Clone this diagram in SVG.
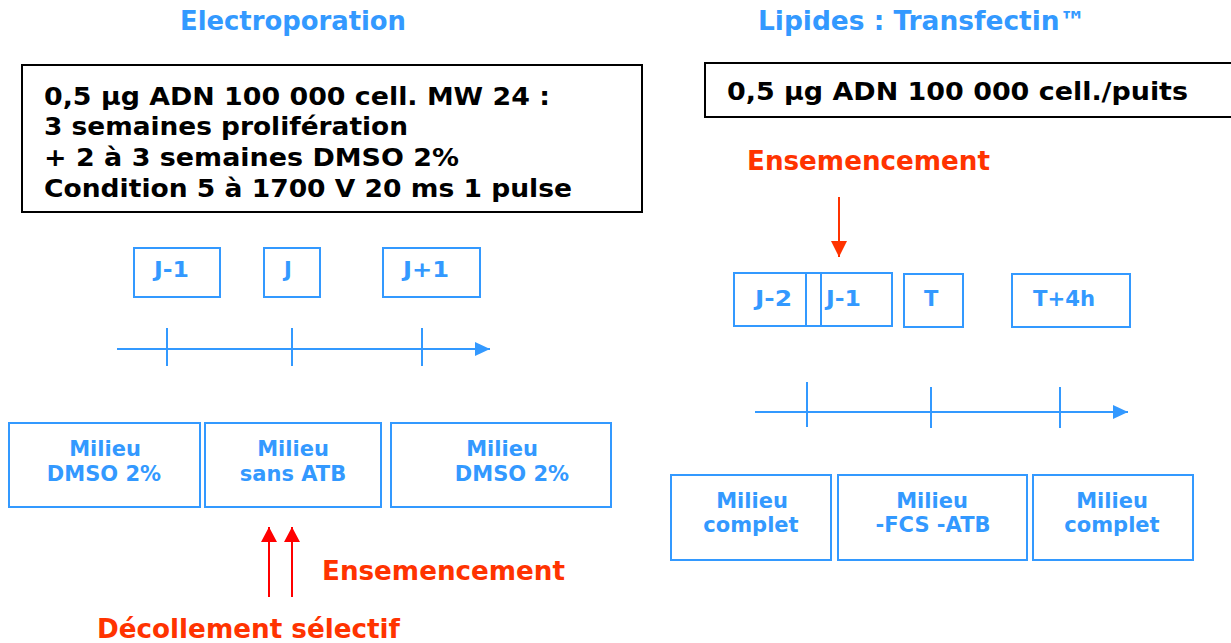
<svg xmlns="http://www.w3.org/2000/svg" width="1231" height="643" viewBox="0 0 1231 643">
<style>
text{font-family:"DejaVu Sans","Liberation Sans",sans-serif;font-weight:bold}
.title{fill:#3399ff;font-size:26px}
.blk{fill:#000;font-size:25px}
.red{fill:#ff3300;font-size:26px}
.lbl{fill:#3399ff;font-size:21px}
.med{fill:#3399ff;font-size:21px;text-anchor:middle}
.bbox{fill:#fff;stroke:#000;stroke-width:2}
.box{fill:#fff;stroke:#3399ff;stroke-width:2}
.axis{stroke:#3399ff;stroke-width:2;fill:none}
.rarrow{stroke:#ff0000;stroke-width:2;fill:none}
.oarrow{stroke:#ff3300;stroke-width:2;fill:none}
</style>
<defs>
<marker id="ab" markerWidth="16" markerHeight="14" refX="15" refY="7" orient="auto" markerUnits="userSpaceOnUse"><path d="M0,0 L15,7 L0,14 z" fill="#3399ff"/></marker>
<marker id="ar" markerWidth="16" markerHeight="16" refX="15" refY="8" orient="auto" markerUnits="userSpaceOnUse"><path d="M0,0 L15,8 L0,16 z" fill="#ff0000"/></marker>
<marker id="ao" markerWidth="17" markerHeight="16" refX="16" refY="8" orient="auto" markerUnits="userSpaceOnUse"><path d="M0,0 L16,8 L0,16 z" fill="#ff3300"/></marker>
</defs>
<rect width="1231" height="643" fill="#fff"/>

<g id="title-electroporation"><text class="title" x="180" y="30" textLength="226" lengthAdjust="spacingAndGlyphs">Electroporation</text></g>
<g id="title-lipides"><text class="title" x="758" y="30" textLength="328" lengthAdjust="spacingAndGlyphs">Lipides : Transfectin™</text></g>

<g id="info-electro">
<rect class="bbox" x="22" y="65" width="620" height="147"/>
<text class="blk" x="44" y="105" textLength="506" lengthAdjust="spacingAndGlyphs">0,5 µg ADN 100 000 cell. MW 24 :</text>
<text class="blk" x="44" y="135" textLength="364" lengthAdjust="spacingAndGlyphs">3 semaines prolifération</text>
<text class="blk" x="44" y="166" textLength="415" lengthAdjust="spacingAndGlyphs">+ 2 à 3 semaines DMSO 2%</text>
<text class="blk" x="44" y="197" textLength="528" lengthAdjust="spacingAndGlyphs">Condition 5 à 1700 V 20 ms 1 pulse</text>
</g>
<g id="info-lipides">
<rect class="bbox" x="705" y="63" width="530" height="54"/>
<text class="blk" x="727" y="100" textLength="461" lengthAdjust="spacingAndGlyphs">0,5 µg ADN 100 000 cell./puits</text>
</g>

<g id="e-j-1"><rect class="box" x="134" y="248" width="86" height="49"/><text class="lbl" x="154" y="277" textLength="35" lengthAdjust="spacingAndGlyphs">J-1</text></g>
<g id="e-j"><rect class="box" x="264" y="248" width="56" height="49"/><text class="lbl" x="284" y="277">J</text></g>
<g id="e-j+1"><rect class="box" x="383" y="248" width="97" height="49"/><text class="lbl" x="403" y="277" textLength="46" lengthAdjust="spacingAndGlyphs">J+1</text></g>

<g id="e-m1"><rect class="box" x="9" y="423" width="191" height="84"/><text class="med" x="105" y="456">Milieu</text><text class="med" x="104" y="481">DMSO 2%</text></g>
<g id="e-m2"><rect class="box" x="205" y="423" width="176" height="84"/><text class="med" x="293" y="456">Milieu</text><text class="med" x="293" y="481">sans ATB</text></g>
<g id="e-m3"><rect class="box" x="391" y="423" width="220" height="84"/><text class="med" x="502" y="456">Milieu</text><text class="med" x="512" y="481">DMSO 2%</text></g>

<g id="l-j-2"><rect class="box" x="734" y="273" width="72" height="53"/><text class="lbl" x="755" y="306" textLength="37" lengthAdjust="spacingAndGlyphs">J-2</text></g>
<g id="l-sep"><rect class="box" x="806" y="273" width="15" height="53"/></g>
<g id="l-j-1"><rect class="box" x="821" y="273" width="71" height="53"/><text class="lbl" x="826" y="306" textLength="35" lengthAdjust="spacingAndGlyphs">J-1</text></g>
<g id="l-t"><rect class="box" x="904" y="274" width="59" height="53"/><text class="lbl" x="924" y="306">T</text></g>
<g id="l-t4h"><rect class="box" x="1012" y="274" width="118" height="53"/><text class="lbl" x="1033" y="306" textLength="62" lengthAdjust="spacingAndGlyphs">T+4h</text></g>

<g id="l-m1"><rect class="box" x="671" y="475" width="160" height="85"/><text class="med" x="752" y="508">Milieu</text><text class="med" x="751" y="532">complet</text></g>
<g id="l-m2"><rect class="box" x="838" y="475" width="189" height="85"/><text class="med" x="932" y="508">Milieu</text><text class="med" x="933" y="532">-FCS -ATB</text></g>
<g id="l-m3"><rect class="box" x="1033" y="475" width="160" height="85"/><text class="med" x="1112" y="508">Milieu</text><text class="med" x="1112" y="532">complet</text></g>

<g id="e-ensemencement"><text class="red" x="322" y="580" textLength="243" lengthAdjust="spacingAndGlyphs">Ensemencement</text></g>
<g id="e-decollement"><text class="red" x="97" y="638" textLength="303" lengthAdjust="spacingAndGlyphs">Décollement sélectif</text></g>
<g id="l-ensemencement"><text class="red" x="747" y="170" textLength="243" lengthAdjust="spacingAndGlyphs">Ensemencement</text></g>

<g id="connectors">
<line class="axis" x1="117" y1="349" x2="490" y2="349" marker-end="url(#ab)"/>
<line class="axis" x1="167" y1="328" x2="167" y2="366"/>
<line class="axis" x1="292" y1="328" x2="292" y2="366"/>
<line class="axis" x1="422" y1="328" x2="422" y2="366"/>
<line class="axis" x1="755" y1="412" x2="1128" y2="412" marker-end="url(#ab)"/>
<line class="axis" x1="807" y1="382" x2="807" y2="427"/>
<line class="axis" x1="931" y1="387" x2="931" y2="428"/>
<line class="axis" x1="1060" y1="387" x2="1060" y2="428"/>
<line class="rarrow" x1="269" y1="597" x2="269" y2="527" marker-end="url(#ar)"/>
<line class="rarrow" x1="292" y1="597" x2="292" y2="527" marker-end="url(#ar)"/>
<line class="oarrow" x1="839" y1="197" x2="839" y2="257" marker-end="url(#ao)"/>
</g>
</svg>
